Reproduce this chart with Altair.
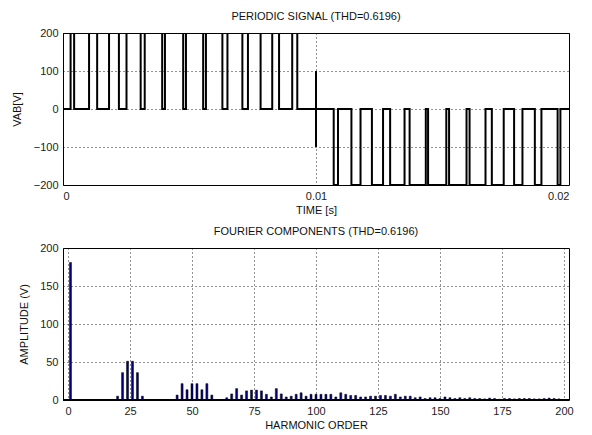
import altair as alt
import pandas as pd

# ---- periodic signal: intervals (ms) where VAB sits at 0 V ----
# first half-cycle: outside these intervals VAB = +200 V
zero_pos_ms = [(0.00, 0.30), (0.44, 1.03), (1.35, 1.82), (2.21, 2.51), (3.07, 3.23),
               (3.92, 4.03), (4.75, 4.86), (5.54, 5.65), (6.30, 6.50), (7.09, 7.31),
               (7.81, 8.27), (8.54, 9.06), (9.26, 10.00)]
# second half-cycle: outside these intervals VAB = -200 V
zero_neg_ms = [(10.00, 10.70), (10.87, 11.40), (11.76, 12.21), (12.65, 12.93), (13.50, 13.70),
               (14.34, 14.43), (15.15, 15.26), (15.95, 16.07), (16.70, 16.95), (17.42, 17.83),
               (18.16, 18.65), (18.91, 19.55), (19.66, 20.00)]
level_pos = 200
level_neg = -200
# short excursion at the half-period instant (ms, V)
mid_spike = [(10.0, 100), (10.0, -100), (10.0, 0)]

# ---- Fourier components: harmonic order and amplitude (V) ----
harm_order = [1,
              20, 22, 24, 26, 28, 30,
              44, 46, 48, 50, 52, 54, 56, 58,
              64, 66, 68, 70, 72, 74, 76, 78, 80, 82, 84, 86, 88, 90, 92, 94, 96, 98,
              100, 102, 104, 106, 108, 110, 112, 114, 116, 118, 120, 122, 124, 126, 128,
              130, 132, 134, 136, 138, 140, 142, 144, 146, 148, 150, 152, 154, 156, 158,
              160, 162, 164, 166, 168, 170, 172, 174, 176, 178, 180, 182, 184, 186, 188,
              190, 192, 194, 196, 198]
harm_amp = [181,
            5, 36, 51, 51, 36, 5,
            6.5, 21.5, 13.5, 21.5, 21.5, 13.5, 21.5, 6.5,
            3, 8, 15, 6.5, 12, 13, 13, 12, 7.5, 4, 15, 8, 4, 5, 7.5, 9.5, 5, 7.5,
            7.5, 7.5, 7.5, 7.5, 4, 9.5, 7.5, 6, 6, 4, 4, 5, 5, 6, 6,
            5, 7.5, 4, 5, 5, 3, 4, 2, 3, 3, 2, 4, 3, 2, 3,
            2, 3, 2, 2, 1.5, 2.5, 2, 1, 2, 2, 1.5, 2, 2, 2, 1.5,
            1.5, 2, 2.5, 2, 1.5]


def step_points():
    pts = []

    def half(zeros, level, t_end):
        t = zeros[0][0]
        for a, b in zeros:
            if a > t:
                pts.append((t, level))
                pts.append((a, level))
            pts.append((a, 0))
            pts.append((b, 0))
            t = b
        if t < t_end:
            pts.append((t, level))
            pts.append((t_end, level))

    half(zero_pos_ms, level_pos, 10.0)
    pts.extend(mid_spike)
    half(zero_neg_ms, level_neg, 20.0)
    return pd.DataFrame({"t": [p[0] / 1000 for p in pts],
                         "v": [p[1] for p in pts],
                         "i": range(len(pts))})


sig = step_points()
spec = pd.DataFrame({"h": harm_order, "a": harm_amp})

W, H = 506, 152
FONT = "Liberation Sans"

amp_axis = alt.Axis(values=[0, 50, 100, 150, 200], title="AMPLITUDE (V)", titleX=-34)

signal = alt.Chart(sig).mark_line(color="black", strokeWidth=2, clip=True).encode(
    x=alt.X("t:Q", scale=alt.Scale(domain=[0, 0.02], nice=False, zero=False),
            axis=alt.Axis(values=[0, 0.01, 0.02], format="~g", title="TIME [s]")),
    y=alt.Y("v:Q", scale=alt.Scale(domain=[-200, 200], nice=False),
            axis=alt.Axis(values=[-200, -100, 0, 100, 200], title="VAB[V]", titleX=-41)),
    order="i:Q",
).properties(width=W, height=H, title="PERIODIC SIGNAL (THD=0.6196)")

bars = alt.Chart(spec).mark_bar(size=2, color="#000080", stroke="black", strokeWidth=0.5).encode(
    x=alt.X("h:Q", scale=alt.Scale(domain=[0, 200], nice=False),
            axis=alt.Axis(values=list(range(0, 201, 25)), title="HARMONIC ORDER")),
    y=alt.Y("a:Q", scale=alt.Scale(domain=[0, 200], nice=False), axis=amp_axis),
)
baseline = alt.Chart(spec).mark_rule(color="black", strokeWidth=1.5).encode(
    y=alt.Y(datum=0, axis=amp_axis)
)
fourier = alt.layer(bars, baseline).properties(
    width=W, height=H, title="FOURIER COMPONENTS  (THD=0.6196)")

chart = alt.vconcat(signal, fourier, spacing=9).properties(
    padding={"left": 10, "top": 10, "right": 6, "bottom": 2},
    background="white",
).configure_view(
    stroke="black", strokeWidth=1
).configure_axis(
    grid=True, gridColor="#000", gridDash=[1, 3], gridOpacity=0.85, gridWidth=1,
    domain=False, ticks=False, labelOverlap=False,
    labelFont=FONT, labelFontSize=11, labelColor="#222", labelPadding=5,
    titleFont=FONT, titleFontSize=11, titleFontWeight="normal", titleColor="#111",
    titlePadding=3,
).configure_title(
    font=FONT, fontSize=11, fontWeight="normal", color="#111", offset=5, anchor="middle"
)

chart.save("out.html", embed_options={"renderer": "svg", "actions": False})
